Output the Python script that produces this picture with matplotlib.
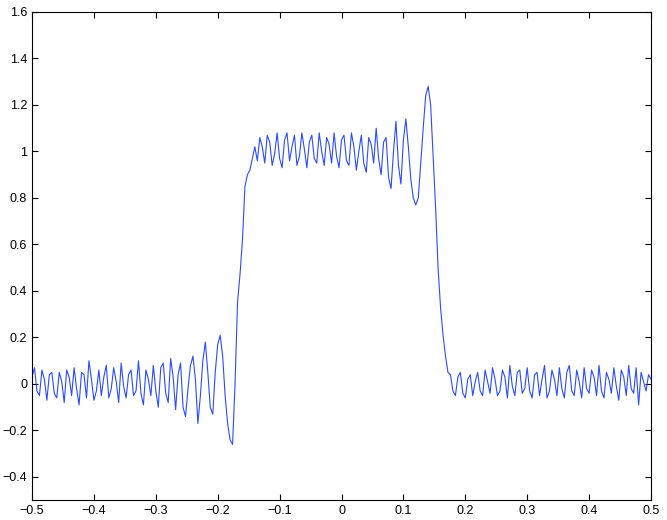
import numpy as np
import matplotlib.pyplot as plt

plt.rcParams['font.family'] = ['Liberation Sans', 'DejaVu Sans']

x_start, x_step = -0.5, 0.004
left_noise = [0.03, 0.07, -0.03, -0.05, 0.06, 0.02, -0.07, 0.04, 0.05, -0.04,
              -0.06, 0.05, 0.01, -0.08, 0.06, 0.03, -0.05, 0.07, -0.02, -0.09,
              0.05, 0.04, -0.06, 0.10, 0.02, -0.07, -0.03, 0.06, -0.05, 0.03,
              0.08, -0.06, -0.02, 0.07, 0.01, -0.08, 0.09, -0.01, -0.06, 0.04,
              0.06, -0.05, -0.03, 0.10, -0.04, -0.09, 0.06, 0.02, -0.05, 0.08,
              -0.03, -0.10, 0.07, 0.09, -0.04, -0.08, 0.11, 0.03, -0.11, 0.04,
              0.09, -0.10, -0.14]
rise = [-0.02, 0.08, 0.12, 0.02, -0.17, -0.05, 0.10, 0.18, 0.05, -0.10,
        -0.13, 0.05, 0.17, 0.21, 0.12, -0.05, -0.17, -0.24, -0.26, 0.00,
        0.35, 0.47, 0.62, 0.85, 0.90, 0.92, 0.97, 1.02]
plateau = [0.96, 1.06, 1.02, 0.95, 1.07, 1.04, 0.94, 0.99, 1.08, 0.97,
           0.93, 1.05, 1.08, 0.96, 1.02, 1.07, 0.94, 0.98, 1.08, 1.01,
           0.93, 1.04, 1.07, 0.97, 0.95, 1.08, 1.00, 0.94, 1.06, 1.03,
           0.95, 1.08, 0.98, 0.93, 1.05, 1.07, 0.96, 0.94, 1.08, 1.02,
           0.92, 1.00, 1.07, 0.95, 0.91, 1.06, 1.03, 0.95, 1.10, 0.97,
           0.90, 1.04, 1.06, 0.89, 0.84, 1.00, 1.13, 0.94, 0.86, 1.05,
           1.14, 1.02]
fall = [0.88, 0.80, 0.77, 0.80, 0.95, 1.10, 1.24, 1.28, 1.20, 0.98,
        0.76, 0.50, 0.33, 0.21, 0.12, 0.05]
right_noise = [0.04, -0.03, -0.05, 0.03, 0.05, -0.04, -0.06, 0.02, 0.04, -0.05,
               0.01, 0.05, -0.03, -0.05, 0.06, 0.01, -0.04, 0.07, 0.02, -0.05,
               -0.03, 0.06, 0.03, -0.06, 0.08, -0.01, -0.05, 0.05, 0.06, -0.04,
               -0.02, 0.07, -0.03, -0.06, 0.04, 0.05, -0.05, 0.02, 0.08, -0.06,
               -0.03, 0.06, 0.02, -0.05, 0.07, -0.02, -0.06, 0.05, 0.08, -0.03,
               -0.05, 0.06, 0.01, -0.06, 0.07, -0.02, -0.04, 0.06, 0.03, -0.05,
               0.08, -0.03, -0.06, 0.05, 0.02, -0.04, 0.07, -0.01, -0.07, 0.06,
               0.03, -0.05, 0.08, -0.02, -0.04, 0.07, -0.09, 0.05, 0.01, -0.03,
               0.04, 0.02]

y = np.array(left_noise + rise + plateau + fall + right_noise)
x = x_start + x_step * np.arange(len(y))

xticks = [-0.5, -0.4, -0.3, -0.2, -0.1, 0, 0.1, 0.2, 0.3, 0.4, 0.5]
xlabels = ['\u22120.5', '\u22120.4', '\u22120.3', '\u22120.2', '\u22120.1', '0',
           '0.1', '0.2', '0.3', '0.4', '0.5']
yticks = [-0.4, -0.2, 0, 0.2, 0.4, 0.6, 0.8, 1, 1.2, 1.4, 1.6]
ylabels = ['\u22120.4', '\u22120.2', '0', '0.2', '0.4', '0.6', '0.8', '1',
           '1.2', '1.4', '1.6']

fig = plt.figure(figsize=(6.67, 5.2), dpi=100)
ax = fig.add_axes([0.048, 0.038, 0.928, 0.939])
ax.plot(x, y, color='#2a4bff', linewidth=0.8)
ax.set_xlim(-0.5, 0.5)
ax.set_ylim(-0.5, 1.6)
ax.set_xticks(xticks)
ax.set_xticklabels(xlabels)
ax.set_yticks(yticks)
ax.set_yticklabels(ylabels)
ax.tick_params(direction='in', length=4, labelsize=9, top=True, right=True)
for s in ax.spines.values():
    s.set_linewidth(0.8)
fig.savefig('out.png', dpi=100)
